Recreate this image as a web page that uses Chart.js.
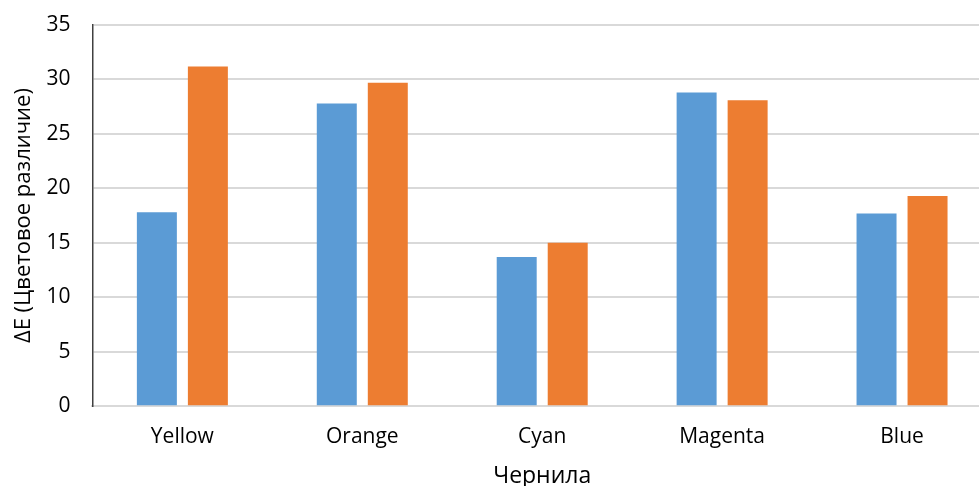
<!DOCTYPE html>
<html>
<head>
<meta charset="utf-8">
<script src="https://cdn.jsdelivr.net/npm/chart.js@4/dist/chart.umd.min.js"></script>
<style>
html,body{margin:0;padding:0;background:#fff;overflow:hidden;}
#wrap{width:979px;height:486px;position:relative;overflow:hidden;}
#c{display:block;}
</style>
</head>
<body>
<div id="wrap"><canvas id="c" width="992" height="486"></canvas></div>
<script>
const categories = ["Yellow", "Orange", "Cyan", "Magenta", "Blue"];
const seriesA = [17.8, 27.8, 13.7, 28.8, 17.7];
const seriesB = [31.2, 29.7, 15.0, 28.1, 19.3];
const yTicks = [0, 5, 10, 15, 20, 25, 30, 35];
const xTitle = "Чернила";
const yTitle = "ΔE (Цветовое различие)";

const FONT = "'Open Sans', 'Liberation Sans', sans-serif";

new Chart(document.getElementById('c'), {
  type: 'bar',
  data: {
    labels: categories,
    datasets: [
      { data: seriesA, backgroundColor: '#5b9bd5', borderWidth: 0, categoryPercentage: 0.567, barPercentage: 0.784 },
      { data: seriesB, backgroundColor: '#ed7d31', borderWidth: 0, categoryPercentage: 0.567, barPercentage: 0.784 }
    ]
  },
  options: {
    responsive: false,
    animation: false,
    devicePixelRatio: 1,
    layout: { padding: { top: 0, right: 0, bottom: 0, left: 11 } },
    plugins: { legend: { display: false }, tooltip: { enabled: false } },
    scales: {
      x: {
        grid: { display: false, drawTicks: false },
        border: { display: true, color: '#d9d9d9', width: 2 },
        ticks: { color: '#000', font: { family: FONT, size: 21 }, padding: 18 },
        title: { display: true, text: xTitle, color: '#000', font: { family: FONT, size: 23 }, padding: { top: -5, bottom: -4 } }
      },
      y: {
        min: 0, max: 35,
        afterBuildTicks: (axis) => { axis.ticks = yTicks.map(v => ({ value: v })); },
        afterFit: (s) => { s.paddingTop = 25; },
        grid: { color: '#d9d9d9', lineWidth: 2, drawTicks: false },
        border: { display: true, color: '#404040', width: 1.5 },
        ticks: { color: '#000', font: { family: FONT, size: 21 }, padding: 22 },
        title: { display: true, text: yTitle, color: '#000', font: { family: FONT, size: 22 }, padding: { top: 0, bottom: -13 } }
      }
    }
  }
});
</script>
</body>
</html>
